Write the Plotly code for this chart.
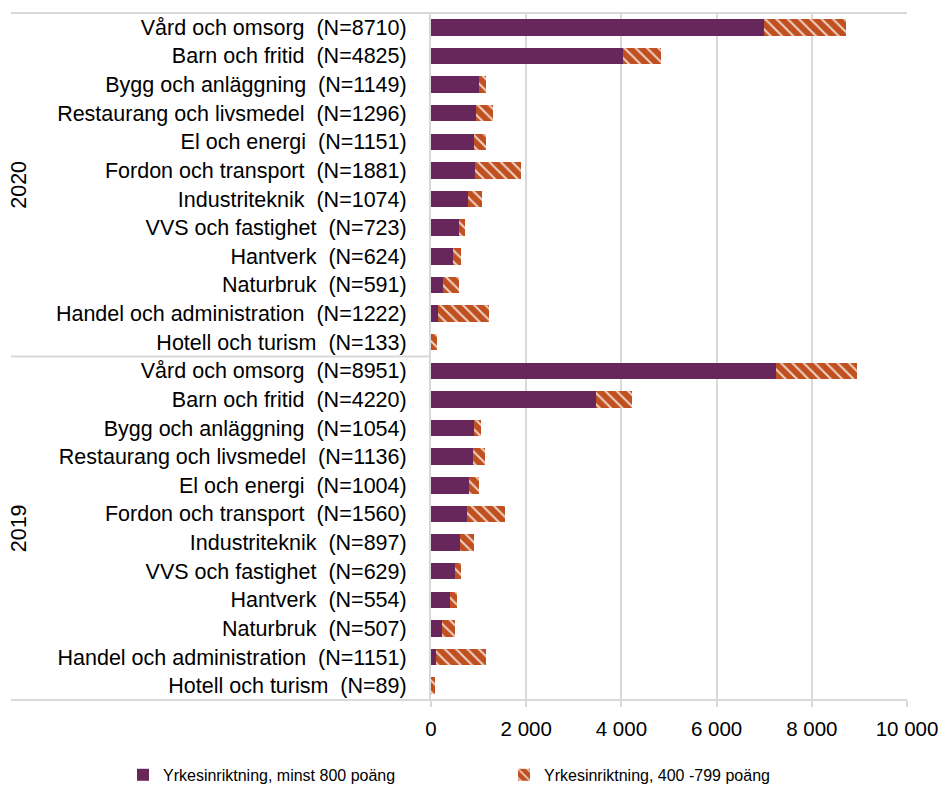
import plotly.graph_objects as go

years = ["2020"] * 12 + ["2019"] * 12
names = ["V\u00e5rd och omsorg", "Barn och fritid", "Bygg och anl\u00e4ggning", "Restaurang och livsmedel",
         "El och energi", "Fordon och transport", "Industriteknik", "VVS och fastighet",
         "Hantverk", "Naturbruk", "Handel och administration", "Hotell och turism"] * 2
n_values = [8710, 4825, 1149, 1296, 1151, 1881, 1074, 723, 624, 591, 1222, 133,
            8951, 4220, 1054, 1136, 1004, 1560, 897, 629, 554, 507, 1151, 89]
minst800 = [6990, 4030, 1000, 953, 897, 918, 777, 588, 462, 252, 141, 10,
            7250, 3460, 911, 883, 792, 757, 603, 505, 393, 225, 113, 5]
p400_799 = [1720, 795, 149, 343, 254, 963, 297, 135, 162, 339, 1081, 123,
            1701, 760, 143, 253, 212, 803, 294, 124, 161, 282, 1038, 84]
series_names = ["Yrkesinriktning, minst 800 po\u00e4ng", "Yrkesinriktning, 400 -799 po\u00e4ng"]
x_ticks = [0, 2000, 4000, 6000, 8000, 10000]

labels = [f"{nm}  (N={n})" for nm, n in zip(names, n_values)]

PURPLE = "#68275A"
ORANGE = "#C0501F"
GRID = "#D9D9D9"
FONT = "Liberation Sans, Arial, sans-serif"

fig = go.Figure()
fig.add_trace(go.Bar(y=labels, x=minst800, orientation="h", name=series_names[0],
                     marker=dict(color=PURPLE, line=dict(width=0))))
fig.add_trace(go.Bar(y=labels, x=p400_799, orientation="h", name=series_names[1],
                     marker=dict(color=ORANGE, line=dict(width=0),
                                 pattern=dict(shape="\\", fgcolor="white", fgopacity=0.75,
                                              size=8, solidity=0.25))))

# group separators and group labels
L, R, T, B = 431, 37, 13, 91
pw = 944 - L - R
left_ext = (11 - L) / pw
shapes = [
    dict(type="line", xref="paper", yref="paper", x0=left_ext, x1=1, y0=1, y1=1,
         line=dict(color=GRID, width=2)),
    dict(type="line", xref="paper", yref="paper", x0=left_ext, x1=1, y0=0, y1=0,
         line=dict(color=GRID, width=2)),
]
annotations = []
groups = []
for i, yr in enumerate(years):
    if not groups or groups[-1][0] != yr:
        groups.append([yr, i, i])
    else:
        groups[-1][2] = i
for gi, (yr, a, b) in enumerate(groups):
    if gi > 0:
        shapes.append(dict(type="line", xref="paper", yref="y", x0=left_ext, x1=0,
                           y0=a - 0.5, y1=a - 0.5, line=dict(color=GRID, width=2)))
    annotations.append(dict(text=yr, xref="paper", yref="y", x=(19 - L) / pw, y=(a + b) / 2,
                            textangle=-90, showarrow=False, xanchor="center", yanchor="middle",
                            font=dict(size=21.5, color="#000000", family=FONT)))

fig.update_layout(
    width=944, height=791,
    margin=dict(l=L, r=R, t=T, b=B, autoexpand=False),
    barmode="stack", bargap=0.42,
    paper_bgcolor="white", plot_bgcolor="white",
    separators=", ",
    font=dict(family=FONT, size=21.5, color="#000000"),
    shapes=shapes, annotations=annotations,
    showlegend=True,
    legend=dict(orientation="h", x=(123 - L) / pw, xanchor="left", y=-0.109, yanchor="middle",
                font=dict(size=16, family=FONT, color="#000000"),
                entrywidth=336, entrywidthmode="pixels", traceorder="normal"),
    xaxis=dict(range=[0, 10000], tickvals=x_ticks, tickformat=",d", showgrid=True,
               gridcolor=GRID, gridwidth=2, zeroline=False, ticks="outside", ticklen=6,
               tickwidth=2, tickcolor=GRID, showline=False, fixedrange=True,
               ticklabelstandoff=4, automargin=False, tickfont=dict(size=20.5)),
    yaxis=dict(autorange="reversed", type="category", showgrid=False, showline=True,
               linecolor=GRID, linewidth=2, ticks="", ticklabelstandoff=18,
               automargin=False, tickfont=dict(size=21.5), fixedrange=True),
)

fig.write_html("out.html", config={"displayModeBar": False},
               post_script="document.body.style.margin='0';")
